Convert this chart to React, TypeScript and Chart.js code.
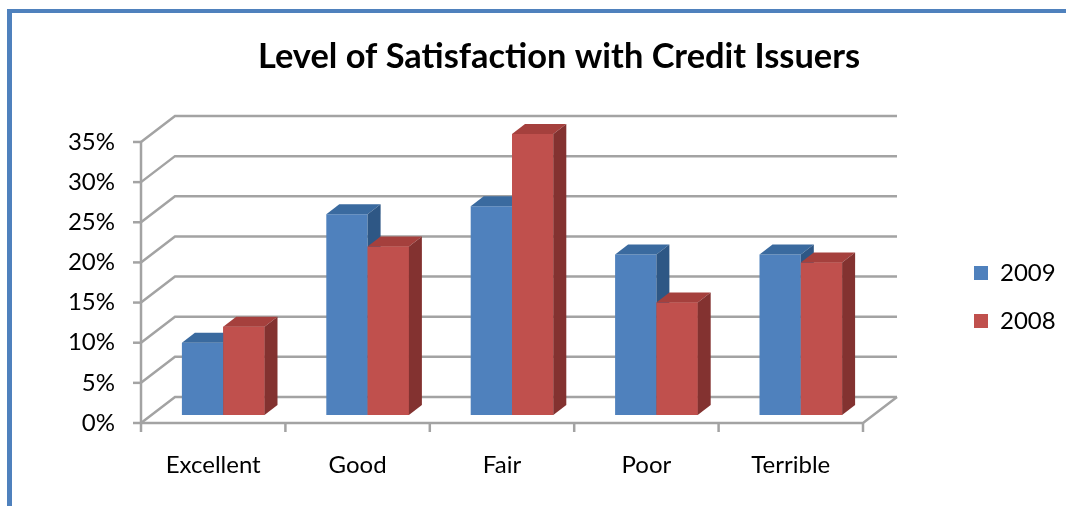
import React, { useEffect, useRef } from 'react';
import { Chart, registerables } from 'chart.js';

Chart.register(...registerables);

// ---- data ----
const categories = ['Excellent', 'Good', 'Fair', 'Poor', 'Terrible'];
const seriesNames = ['2009', '2008'];
const values2009 = [9, 25, 26, 20, 20];
const values2008 = [11, 21, 35, 14, 19];
const yTickLabels = ['0%', '5%', '10%', '15%', '20%', '25%', '30%', '35%'];
const yMin = 0;
const yMax = 35;
const yStep = 5;
const chartTitle = 'Level of Satisfaction with Credit Issuers';

// ---- styles ----
const FONT = 'Lato, "Open Sans", "Noto Sans", sans-serif';
const TEXT = '#000000';
const GRID = '#a3a3a3';
const FRAME = '#4f81bd';
const FACES = [
  { front: '#4F81BD', top: '#3A6A9F', side: '#2E5785' },
  { front: '#C0504D', top: '#A5403D', side: '#833230' },
];
// offsets relative to the bar plane (chart area)
const FRONT = { dx: -10, dy: 8 };
const BACK = { dx: 24, dy: -18 };
const BAR = { dx: 13, dy: -10 };

const framePlugin = {
  id: 'frame',
  beforeDraw(chart: any) {
    const ctx = chart.ctx;
    ctx.save();
    ctx.fillStyle = FRAME;
    ctx.fillRect(7, 9, 1059, 4);
    ctx.fillRect(7, 9, 5, 497);
    ctx.restore();
  },
};

const wallsPlugin = {
  id: 'walls3d',
  beforeDatasetsDraw(chart: any) {
    const { ctx, chartArea: a, scales } = chart;
    const x = scales.x;
    const y = scales.y;
    ctx.save();
    ctx.strokeStyle = GRID;
    ctx.lineWidth = 2.5;
    ctx.lineJoin = 'miter';
    ctx.lineCap = 'butt';
    const p0 = y.getPixelForValue(yMin);
    y.ticks.forEach((t: any) => {
      const py = y.getPixelForValue(t.value);
      ctx.beginPath();
      ctx.moveTo(a.left + FRONT.dx, py + FRONT.dy);
      ctx.lineTo(a.left + BACK.dx, py + BACK.dy);
      ctx.lineTo(a.right + BACK.dx, py + BACK.dy);
      ctx.stroke();
    });
    ctx.beginPath();
    ctx.moveTo(a.left + FRONT.dx, p0 + FRONT.dy);
    ctx.lineTo(a.right + FRONT.dx, p0 + FRONT.dy);
    ctx.lineTo(a.right + BACK.dx, p0 + BACK.dy);
    ctx.stroke();
    ctx.beginPath();
    ctx.moveTo(a.left + FRONT.dx, y.getPixelForValue(yMax) + FRONT.dy);
    ctx.lineTo(a.left + FRONT.dx, p0 + FRONT.dy);
    ctx.stroke();
    y.ticks.forEach((t: any) => {
      const py = y.getPixelForValue(t.value) + FRONT.dy;
      ctx.beginPath();
      ctx.moveTo(a.left + FRONT.dx - 8, py);
      ctx.lineTo(a.left + FRONT.dx, py);
      ctx.stroke();
    });
    const n = categories.length;
    const half = (x.getPixelForValue(1) - x.getPixelForValue(0)) / 2;
    for (let i = 0; i <= n; i++) {
      const bx = (i < n ? x.getPixelForValue(i) - half : x.getPixelForValue(n - 1) + half) + FRONT.dx;
      ctx.beginPath();
      ctx.moveTo(bx, p0 + FRONT.dy);
      ctx.lineTo(bx, p0 + FRONT.dy + 9);
      ctx.stroke();
    }
    ctx.restore();
  },
};

const barsPlugin = {
  id: 'bars3d',
  afterDatasetsDraw(chart: any) {
    const ctx = chart.ctx;
    const metas = chart.data.datasets.map((_: any, i: number) => chart.getDatasetMeta(i));
    ctx.save();
    for (let i = 0; i < categories.length; i++) {
      metas.forEach((meta: any, d: number) => {
        const el = meta.data[i];
        if (!el) return;
        const { x: cx, y: top, base, width } = el.getProps(['x', 'y', 'base', 'width'], true);
        const l = cx - width / 2;
        const r = cx + width / 2;
        const c = FACES[d];
        if (d > 0) el.draw(ctx);
        ctx.fillStyle = c.top;
        ctx.beginPath();
        ctx.moveTo(l, top);
        ctx.lineTo(l + BAR.dx, top + BAR.dy);
        ctx.lineTo(r + BAR.dx, top + BAR.dy);
        ctx.lineTo(r, top);
        ctx.closePath();
        ctx.fill();
        ctx.fillStyle = c.side;
        ctx.beginPath();
        ctx.moveTo(r, top);
        ctx.lineTo(r + BAR.dx, top + BAR.dy);
        ctx.lineTo(r + BAR.dx, base + BAR.dy);
        ctx.lineTo(r, base);
        ctx.closePath();
        ctx.fill();
      });
    }
    ctx.restore();
  },
};

// place title and legend boxes where the original has them
const placeBoxesPlugin = {
  id: 'placeBoxes',
  afterLayout(chart: any) {
    const tb = chart.titleBlock;
    if (tb) {
      tb.left = 52;
      tb.right = 1066;
    }
    const lg = chart.legend;
    if (lg) {
      lg.left = 950;
      lg.right = 1066;
      lg.top = 237;
      lg.bottom = 237 + 200;
    }
  },
};

export default function App() {
  const ref = useRef<HTMLCanvasElement>(null);
  useEffect(() => {
    const canvas = ref.current;
    if (!canvas) return;
    const chart = new Chart(canvas, {
      type: 'bar',
      data: {
        labels: categories,
        datasets: [
          { label: seriesNames[0], data: values2009, backgroundColor: FACES[0].front, borderWidth: 0 },
          { label: seriesNames[1], data: values2008, backgroundColor: FACES[1].front, borderWidth: 0 },
        ],
      },
      options: {
        responsive: false,
        animation: false,
        devicePixelRatio: 1,
        layout: { padding: { left: 40, right: 93, top: 0, bottom: 0 } },
        datasets: { bar: { categoryPercentage: 0.572, barPercentage: 1 } },
        scales: {
          x: {
            grid: { display: false, drawTicks: false },
            border: { display: false },
            ticks: {
              font: { family: FONT, size: 24 },
              color: TEXT,
              padding: 35.6,
              labelOffset: FRONT.dx,
              maxRotation: 0,
              autoSkip: false,
            },
            afterFit: (s: any) => { s.height = 91; },
          },
          y: {
            min: yMin,
            max: yMax,
            grid: { display: false, drawTicks: false },
            border: { display: false },
            ticks: {
              stepSize: yStep,
              font: { family: FONT, size: 24 },
              color: TEXT,
              padding: 36,
              labelOffset: FRONT.dy,
              callback: (_v: any, i: number) => yTickLabels[i],
            },
            afterFit: (s: any) => { s.width = 111; },
          },
        },
        plugins: {
          title: {
            display: true,
            text: chartTitle,
            color: TEXT,
            font: { family: FONT, size: 34.4, weight: 'bold' },
            padding: { top: 36.4, bottom: 56.3 },
          },
          legend: {
            position: 'right',
            align: 'start',
            maxWidth: 100,
            labels: {
              font: { family: FONT, size: 24 },
              color: TEXT,
              boxWidth: 14,
              boxHeight: 14,
              padding: 24,
            },
          },
          tooltip: { enabled: false },
        },
      } as any,
      plugins: [framePlugin, wallsPlugin, barsPlugin, placeBoxesPlugin],
    });
    return () => chart.destroy();
  }, []);
  return (
    <div style={{ position: 'fixed', left: 0, top: 0, width: 1066, height: 506, background: '#ffffff' }}>
      <canvas ref={ref} width={1066} height={506} style={{ display: 'block', width: 1066, height: 506 }} />
    </div>
  );
}
